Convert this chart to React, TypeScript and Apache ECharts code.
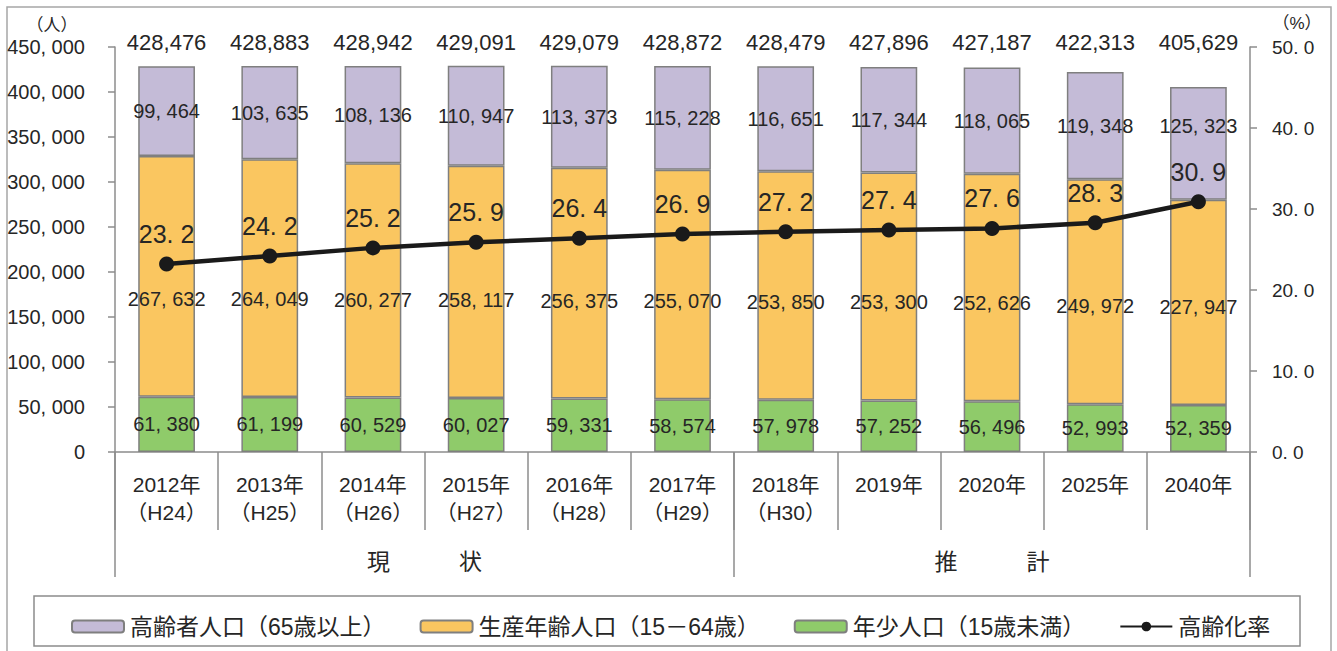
import React, { useEffect, useRef } from "react";
import * as echarts from "echarts";

const categories = [
  "2012年\n（H24）", "2013年\n（H25）", "2014年\n（H26）", "2015年\n（H27）",
  "2016年\n（H28）", "2017年\n（H29）", "2018年\n（H30）", "2019年", "2020年", "2025年", "2040年",
];
const totals = [428476, 428883, 428942, 429091, 429079, 428872, 428479, 427896, 427187, 422313, 405629];
const elderly = [99464, 103635, 108136, 110947, 113373, 115228, 116651, 117344, 118065, 119348, 125323];
const working = [267632, 264049, 260277, 258117, 256375, 255070, 253850, 253300, 252626, 249972, 227947];
const youth = [61380, 61199, 60529, 60027, 59331, 58574, 57978, 57252, 56496, 52993, 52359];
const agingRate = [23.2, 24.2, 25.2, 25.9, 26.4, 26.9, 27.2, 27.4, 27.6, 28.3, 30.9];
const groupLabels = ["現　　　状", "推　　　計"];
const groupCenters = [3, 8.5];
const groupBounds = [0, 6, 11];
const seriesNames = ["高齢者人口（65歳以上）", "生産年齢人口（15－64歳）", "年少人口（15歳未満）", "高齢化率"];

const SANS = '"Liberation Sans", "Noto Sans CJK JP", sans-serif';
const TXT = "#262626";
const GRAY = "#8c8c8c";

const fmtN = (n: number) => n.toLocaleString("en-US").replace(/,/g, ", ");

export default function App() {
  const ref = useRef<HTMLDivElement>(null);
  useEffect(() => {
    if (!ref.current) return;
    const chart = echarts.init(ref.current, null, { renderer: "svg" });
    const barBorder = { borderColor: "#7f7f7f", borderWidth: 1.5 };
    const insideLabel = (extra: any = {}) => ({
      show: true,
      position: "inside",
      fontFamily: SANS,
      fontSize: 20,
      color: TXT,
      formatter: (p: any) => fmtN(p.value),
      ...extra,
    });
    const lastIdx = elderly.length - 1;
    chart.setOption({
      animation: false,
      backgroundColor: "#ffffff",
      grid: { left: 115, right: 87, top: 47, bottom: 199, containLabel: false },
      legend: {
        left: 66,
        top: 610,
        itemWidth: 52,
        itemHeight: 12,
        itemGap: 34,
        textStyle: { fontFamily: SANS, fontSize: 23, color: TXT, padding: [0, 0, 0, 1] },
        data: seriesNames,
      },
      graphic: [
        {
          type: "rect",
          z: -10,
          shape: { x: 7, y: 7, width: 1324, height: 680 },
          style: { fill: "none", stroke: "#a6a6a6", lineWidth: 1.5 },
        },
        {
          type: "rect",
          z: -5,
          shape: { x: 34, y: 596, width: 1266, height: 50 },
          style: { fill: "none", stroke: "#8c8c8c", lineWidth: 1.5 },
        },
        {
          type: "text",
          x: 52,
          y: 25,
          style: { text: "（人）", fontFamily: SANS, fontSize: 17, fill: TXT, align: "center", verticalAlign: "middle" },
        },
        {
          type: "text",
          x: 1297,
          y: 23,
          style: { text: "（%）", fontFamily: SANS, fontSize: 17, fill: TXT, align: "center", verticalAlign: "middle" },
        },
      ],
      xAxis: [
        {
          type: "category",
          data: categories,
          position: "bottom",
          axisLine: { show: true, lineStyle: { color: GRAY, width: 1.5 } },
          axisTick: { show: true, interval: 0, length: 78, lineStyle: { color: GRAY, width: 1.5 } },
          axisLabel: {
            interval: 0,
            margin: 18,
            fontFamily: SANS,
            fontSize: 21,
            lineHeight: 28,
            color: TXT,
          },
        },
        {
          type: "value",
          min: 0,
          max: 11,
          position: "bottom",
          axisLine: { show: false },
          splitLine: { show: false },
          axisTick: { show: true, customValues: groupBounds, length: 125, lineStyle: { color: GRAY, width: 1.5 } },
          axisLabel: {
            customValues: groupCenters,
            margin: 98,
            fontFamily: SANS,
            fontSize: 23,
            color: TXT,
            formatter: (v: number) => groupLabels[groupCenters.indexOf(v)] ?? "",
          },
        },
        {
          type: "category",
          data: totals.map((t) => t.toLocaleString("en-US")),
          position: "top",
          axisLine: { show: false },
          axisTick: { show: false },
          axisLabel: {
            interval: 0,
            margin: 5,
            verticalAlign: "middle",
            fontFamily: SANS,
            fontSize: 22,
            color: TXT,
          },
        },
      ],
      yAxis: [
        {
          type: "value",
          min: 0,
          max: 450000,
          interval: 50000,
          axisLine: { show: true, lineStyle: { color: GRAY, width: 1.5 } },
          axisTick: { show: true, length: 7, lineStyle: { color: GRAY, width: 1.5 } },
          splitLine: { show: false },
          axisLabel: { margin: 30, fontFamily: SANS, fontSize: 20, color: TXT, formatter: (v: number) => fmtN(v) },
        },
        {
          type: "value",
          min: 0,
          max: 50,
          interval: 10,
          position: "right",
          axisLine: { show: true, lineStyle: { color: GRAY, width: 1.5 } },
          axisTick: { show: true, length: 7, lineStyle: { color: GRAY, width: 1.5 } },
          splitLine: { show: false },
          axisLabel: {
            margin: 22,
            fontFamily: SANS,
            fontSize: 19,
            color: TXT,
            formatter: (v: number) => v.toFixed(1).replace(".", ". "),
          },
        },
      ],
      series: [
        {
          name: seriesNames[2],
          type: "bar",
          stack: "pop",
          data: youth,
          barCategoryGap: "45%",
          itemStyle: { color: "#8fcb6a", ...barBorder },
          label: insideLabel(),
        },
        {
          name: seriesNames[1],
          type: "bar",
          stack: "pop",
          data: working,
          itemStyle: { color: "#fac660", ...barBorder },
          label: insideLabel({ position: "insideBottom", distance: 88 }),
        },
        {
          name: seriesNames[0],
          type: "bar",
          stack: "pop",
          data: elderly.map((v, i) => (i === lastIdx ? { value: v, label: { offset: [0, -17] } } : v)),
          itemStyle: { color: "#c4bbd7", ...barBorder },
          label: insideLabel(),
        },
        {
          name: seriesNames[3],
          type: "line",
          yAxisIndex: 1,
          data: agingRate,
          symbol: "circle",
          symbolSize: 15,
          itemStyle: { color: "#1a1a1a" },
          lineStyle: { color: "#1a1a1a", width: 4.5 },
          z: 10,
          label: {
            show: true,
            position: "top",
            distance: 10,
            fontFamily: SANS,
            fontSize: 25,
            color: TXT,
            formatter: (p: any) => p.value.toFixed(1).replace(".", ". "),
          },
        },
      ],
    });
    return () => chart.dispose();
  }, []);
  return (
    <div
      ref={ref}
      style={{ position: "fixed", left: 0, top: 0, width: 1337, height: 651, background: "#fff" }}
    />
  );
}
